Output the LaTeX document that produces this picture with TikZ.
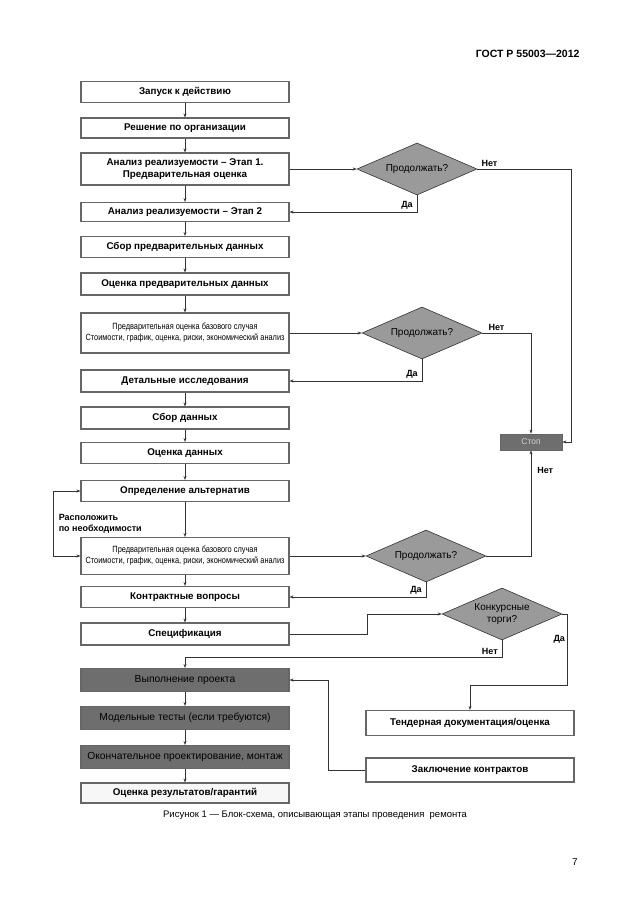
\documentclass[tikz,border=0pt]{standalone}
\usepackage{fontspec}
\setmainfont{Liberation Sans}
\newfontfamily\narrowfont[FakeStretch=0.82]{Liberation Sans}
\usetikzlibrary{shapes.geometric,arrows.meta}
\definecolor{boxline}{HTML}{666666}
\definecolor{diafill}{HTML}{9A9A9A}
\definecolor{darkfill}{HTML}{6E6E6E}
\definecolor{linecol}{HTML}{333333}
\begin{document}
\begin{tikzpicture}[x=1pt,y=-1pt,
    >={Stealth[length=4pt,width=3pt]},
    stage/.style={draw=boxline, line width=1.1pt, fill=white, minimum width=208pt,
        inner sep=0pt, align=center, font=\fontsize{9.8}{11.5}\selectfont\bfseries},
    narrow/.style={font=\narrowfont\fontsize{9}{11}\selectfont},
    darkstage/.style={stage, fill=darkfill, minimum height=23pt,
        font=\fontsize{10.3}{12}\selectfont},
    sidestage/.style={stage, minimum width=208pt},
    decide/.style={diamond, draw=linecol, line width=0.6pt, fill=diafill, inner sep=0pt,
        shape aspect=2.3, minimum width=120pt, minimum height=52pt, align=center,
        font=\fontsize{10}{11.5}\selectfont},
    stopbox/.style={draw=boxline, line width=0.8pt, fill=darkfill, text=gray!35,
        minimum width=62pt, minimum height=16pt, inner sep=0pt,
        font=\fontsize{8.5}{10}\selectfont},
    flow/.style={draw=linecol, line width=0.6pt, ->},
    lbl/.style={font=\fontsize{9}{11}\selectfont\bfseries, inner sep=2pt}]
\useasboundingbox (0,0) rectangle (630,913);

\node[anchor=east, font=\fontsize{10.5}{12}\selectfont\bfseries] (gost) at (583,54) {ГОСТ Р 55003—2012};

% main column
\node[stage, minimum height=21pt] (launch) at (185,92) {Запуск к действию};
\node[stage, minimum height=20pt] (decision) at (185,128) {Решение по организации};
\node[stage, minimum height=32pt] (stageone) at (185,169) {Анализ реализуемости – Этап 1.\\Предварительная оценка};
\node[stage, minimum height=19pt] (stagetwo) at (185,212) {Анализ реализуемости – Этап 2};
\node[stage, minimum height=21pt] (prelimcollect) at (185,247) {Сбор предварительных данных};
\node[stage, minimum height=22pt] (prelimeval) at (185,284) {Оценка предварительных данных};
\node[stage, narrow, minimum height=40pt] (basecaseA) at (185,333) {Предварительная оценка базового случая\\Стоимости, график, оценка, риски, экономический анализ};
\node[stage, minimum height=22pt] (detailed) at (185,381) {Детальные исследования};
\node[stage, minimum height=22pt] (collect) at (185,418) {Сбор данных};
\node[stage, minimum height=21pt] (evaluate) at (185,453) {Оценка данных};
\node[stage, minimum height=21pt] (altern) at (185,491) {Определение альтернатив};
\node[stage, narrow, minimum height=37pt] (basecaseB) at (185,556) {Предварительная оценка базового случая\\Стоимости, график, оценка, риски, экономический анализ};
\node[stage, minimum height=21pt] (contractq) at (185,597) {Контрактные вопросы};
\node[stage, minimum height=22pt] (spec) at (185,634) {Спецификация};
\node[darkstage] (execute) at (185,680) {Выполнение проекта};
\node[darkstage] (modeltest) at (185,718) {Модельные тесты (если требуются)};
\node[darkstage] (final) at (185,757) {Окончательное проектирование, монтаж};
\node[stage, fill=gray!6, minimum height=20pt] (results) at (185,793) {Оценка результатов/гарантий};

% decisions and side boxes
\node[decide] (contA) at (417,169) {Продолжать?};
\node[decide] (contB) at (422,333) {Продолжать?};
\node[decide] (contC) at (426,556) {Продолжать?};
\node[decide] (tenderq) at (502,614) {Конкурсные\\торги?};
\node[stopbox] (stop) at (531,442) {Стоп};
\node[sidestage, minimum height=25pt] (tenderdoc) at (470,723) {Тендерная документация/оценка};
\node[sidestage, minimum height=24pt] (signing) at (470,770) {Заключение контрактов};

% vertical flow
\draw[flow] (launch) -- (decision);
\draw[flow] (decision) -- (stageone);
\draw[flow] (stageone) -- (stagetwo);
\draw[flow] (stagetwo) -- (prelimcollect);
\draw[flow] (prelimcollect) -- (prelimeval);
\draw[flow] (prelimeval) -- (basecaseA);
\draw[flow] (detailed) -- (collect);
\draw[flow] (collect) -- (evaluate);
\draw[flow] (evaluate) -- (altern);
\draw[flow] (altern) -- (basecaseB);
\draw[flow] (basecaseB) -- (contractq);
\draw[flow] (contractq) -- (spec);
\draw[flow] (execute) -- (modeltest);
\draw[flow] (modeltest) -- (final);
\draw[flow] (final) -- (results);
\draw[flow, <->] (altern.west) -- ++(-27,0) |- node[pos=0.25, right, lbl, align=left, xshift=3pt] {Расположить\\по необходимости} (basecaseB.west);

% decision branches
\draw[flow] (stageone.east) -- (contA.west);
\draw[flow] (contA.east) node[lbl, above right, xshift=2pt] {Нет} -- ++(94,0) |- (stop.east);
\draw[flow] (contA.south) |- node[pos=0.5, lbl, above left, xshift=-2pt] {Да} (stagetwo.east);
\draw[flow] (basecaseA.east) -- (contB.west);
\draw[flow] (contB.east) node[lbl, above right, xshift=4pt] {Нет} -| (stop.north);
\draw[flow] (contB.south) |- node[pos=0.5, lbl, above left, xshift=-2pt] {Да} (detailed.east);
\draw[flow] (basecaseB.east) -- (contC.west);
\draw[flow] (contC.east) -| node[pos=0.905, lbl, right, xshift=4pt] {Нет} (stop.south);
\draw[flow] (contC.south) |- node[pos=0.5, lbl, above left, xshift=-2pt] {Да} (contractq.east);
\draw[flow] (spec.east) -- ++(78,0) |- (tenderq.west);
\draw[flow] (tenderq.south) -- ++(0,17) node[lbl, above left, xshift=-2pt] {Нет} -| (execute.north);
\draw[flow] (tenderq.east) -- ++(5,0) -- node[pos=0.35, lbl, left] {Да} ++(0,71) -| (tenderdoc.north);
\draw[flow] (signing.west) -- ++(-37,0) |- (execute.east);

\node[font=\fontsize{9.5}{11}\selectfont] (caption) at (315,815) {Рисунок 1 — Блок-схема, описывающая этапы проведения\ \ ремонта};
\node[font=\fontsize{10}{12}\selectfont] (pagenum) at (575,862) {7};
\end{tikzpicture}
\end{document}
